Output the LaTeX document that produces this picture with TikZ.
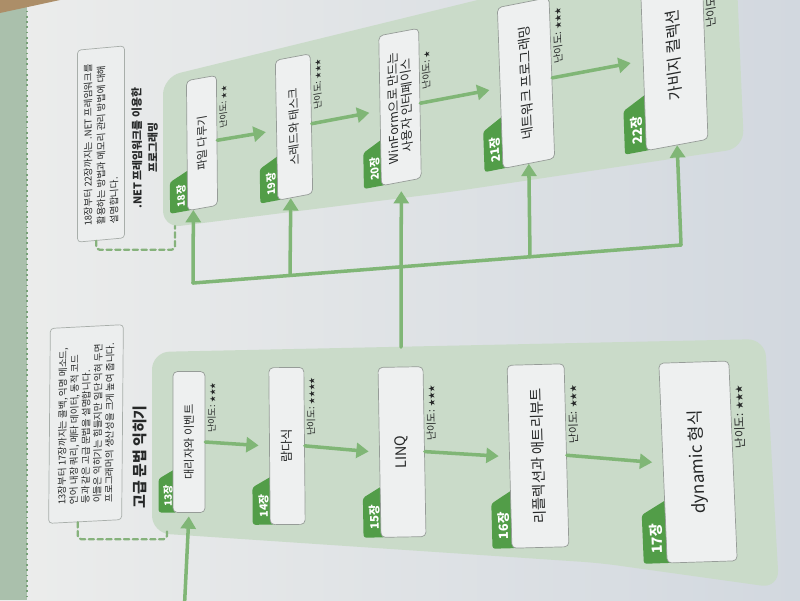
\documentclass[tikz,border=0pt]{standalone}
\usepackage{fontspec}
\setmainfont{Noto Sans CJK KR}
\usetikzlibrary{arrows.meta,positioning,calc,shapes.geometric}
\definecolor{pagel}{RGB}{236,237,236}
\definecolor{pager}{RGB}{210,216,223}
\definecolor{stripgreen}{RGB}{170,192,172}
\definecolor{stripedge}{RGB}{120,160,120}
\definecolor{tablebrown}{RGB}{172,142,104}
\definecolor{grpgreen}{RGB}{202,219,201}
\definecolor{tabgreen}{RGB}{82,157,72}
\definecolor{arrowgreen}{RGB}{128,182,118}
\definecolor{dashgreen}{RGB}{134,178,124}
\definecolor{boxfill}{RGB}{238,240,240}
\definecolor{boxline}{RGB}{150,156,152}
\definecolor{notefill}{RGB}{236,238,238}
\definecolor{noteline}{RGB}{168,174,170}
\definecolor{textcol}{RGB}{38,40,40}
\tikzstyle{conn} = [draw=arrowgreen,line width=2pt,-{Triangle[length=7pt,width=8.5pt]}]
\tikzstyle{busline} = [draw=arrowgreen,line width=2pt]
\tikzstyle{chap} = [draw=boxline,fill=boxfill,line width=0.4pt,rounded corners=2.5pt,text=textcol,align=center,inner sep=1pt]
\tikzstyle{chaptab} = [fill=tabgreen,text=white,trapezium,trapezium left angle=90,trapezium right angle=55,trapezium stretches=true,rounded corners=1.5pt,inner sep=0.5pt]
\tikzstyle{level} = [text=textcol,inner sep=1pt]
\tikzstyle{note} = [draw=noteline,fill=notefill,line width=0.4pt,rounded corners=2pt,align=left,text=textcol,inner sep=2pt]
\tikzstyle{dashline} = [draw=dashgreen,line width=1.3pt,dash pattern=on 3pt off 2pt,rounded corners=2pt]
\tikzset{tilt/.style 2 args={rotate=#1,xslant=#2}}
\newcommand{\fsz}[2]{\fontsize{#1pt}{#2pt}\selectfont}
\newcommand{\hstar}{\scalebox{0.7}{★}}
\pgfdeclarelayer{back}
\pgfdeclarelayer{mid}
\pgfsetlayers{back,mid,main}

\begin{document}
\begin{tikzpicture}[x=0.02cm,y=-0.02cm,line cap=round,line join=round]
    \useasboundingbox (0,0) rectangle (800,600);

    % 종이, 책 가장자리, 두 영역 상자
    \begin{pgfonlayer}{back}
        \begin{scope}
            \clip (0,0) rectangle (800,600);
            \shade[left color=pagel,right color=pager] (0,0) rectangle (800,600);
            \fill[stripgreen] (0,0) rectangle (27,600);
            \draw[stripedge,line width=1pt,dotted] (27,0) -- (27,600);
            \fill[tablebrown] (0,0) -- (60,0) -- (0,13) -- cycle;

            \fill[grpgreen,rounded corners=10pt]
                (163,77) -- (735,-63) -- (744,148) -- (450,192) -- (163,228) -- cycle;
            \fill[grpgreen,rounded corners=10pt]
                (152,352) -- (765,339) -- (779,588) -- (600,563) -- (152,533) -- cycle;
        \end{scope}
    \end{pgfonlayer}

    \clip (0,0) rectangle (800,600);

    % 설명 상자와 제목
    \node[note,tilt={89.5}{-0.06},minimum width=3.9cm,minimum height=1.46cm,font=\fsz{5.4}{6.7}] (n1) at (86,424)
        {13장부터 17장까지는 콜백, 익명 메소드,\\언어 내장 쿼리, 메타 데이터, 동적 코드\\등과 같은 고급 문법을 설명합니다.\\이들은 익히기는 힘들지만 일단 익혀 두면\\프로그래머의 생산성을 크게 높여 줍니다.};
    \node[note,tilt={90}{-0.09},minimum width=3.84cm,minimum height=0.94cm,font=\fsz{5.4}{7.4}] (n2) at (101,144)
        {18장부터 22장까지는 .NET 프레임워크를\\활용하는 방법과 메모리 관리 방법에 대해\\설명합니다.};
    \node[text=textcol,rotate=90,font=\bfseries\fsz{8.5}{10}] (t1) at (140,457) {고급 문법 익히기};
    \node[text=textcol,rotate=90.5,align=center,font=\bfseries\fsz{6.2}{9}] (t2) at (145,148)
        {.NET 프레임워크를 이용한\\프로그래밍};

    % 고급 문법 익히기 (13장 ~ 17장)
    \node[chap,tilt={90}{0},minimum width=2.82cm,minimum height=0.64cm,font=\fsz{6.4}{7}] (b13) at (189,442) {대리자와 이벤트};
    \node[chap,tilt={90.5}{0},minimum width=3.14cm,minimum height=0.7cm,font=\fsz{7}{8}] (b14) at (287,446) {람다식};
    \node[chap,tilt={91}{0},minimum width=3.4cm,minimum height=0.9cm,font=\fsz{8.2}{9}] (b15) at (402,452) {LINQ};
    \node[chap,tilt={91.5}{0},minimum width=3.66cm,minimum height=1.14cm,font=\fsz{8.2}{9}] (b16) at (538,456) {리플렉션과 애트리뷰트};
    \node[chap,tilt={92.4}{0.01},minimum width=4cm,minimum height=1.4cm,font=\fsz{9.7}{11}] (b17) at (698,462) {dynamic 형식};

    % .NET 프레임워크를 이용한 프로그래밍 (18장 ~ 22장)
    \node[chap,tilt={90.5}{-0.17},minimum width=2.6cm,minimum height=0.6cm,font=\fsz{6.4}{7}] (b18) at (202,143) {파일 다루기};
    \node[chap,tilt={91}{-0.17},minimum width=2.8cm,minimum height=0.7cm,font=\fsz{6.6}{7}] (b19) at (294,127) {스레드와 태스크};
    \node[chap,tilt={91}{-0.17},minimum width=3cm,minimum height=0.8cm,font=\fsz{7}{7.6}] (b20) at (400,107)
        {WinForm으로 만드는\\사용자 인터페이스};
    \node[chap,tilt={92}{-0.16},minimum width=3.22cm,minimum height=1.04cm,font=\fsz{7.6}{8}] (b21) at (526,83) {네트워크 프로그래밍};
    \node[chap,tilt={92}{-0.15},minimum width=3.6cm,minimum height=1.24cm,font=\fsz{9}{10}] (b22) at (674,55) {가비지 컬렉션};

    % 장 번호 탭
    \begin{pgfonlayer}{mid}
        \node[chaptab,tilt={90}{0},minimum width=0.9cm,minimum height=0.38cm,font=\bfseries\fsz{5.8}{6},anchor=bottom left corner]
            (c13) at ($(b13.north west)!3pt!(b13.south west)$) {13장};
        \node[chaptab,tilt={90.5}{0},minimum width=1cm,minimum height=0.44cm,font=\bfseries\fsz{6.2}{7},anchor=bottom left corner]
            (c14) at ($(b14.north west)!3pt!(b14.south west)$) {14장};
        \node[chaptab,tilt={91}{0},minimum width=1.06cm,minimum height=0.44cm,font=\bfseries\fsz{6.6}{7},anchor=bottom left corner]
            (c15) at ($(b15.north west)!3pt!(b15.south west)$) {15장};
        \node[chaptab,tilt={91.5}{0},minimum width=1.2cm,minimum height=0.48cm,font=\bfseries\fsz{7.2}{8},anchor=bottom left corner]
            (c16) at ($(b16.north west)!3pt!(b16.south west)$) {16장};
        \node[chaptab,tilt={92.4}{0.01},minimum width=1.3cm,minimum height=0.56cm,font=\bfseries\fsz{8}{9},anchor=bottom left corner]
            (c17) at ($(b17.north west)!3pt!(b17.south west)$) {17장};
        \node[chaptab,tilt={90.5}{-0.17},minimum width=0.84cm,minimum height=0.44cm,font=\bfseries\fsz{5.8}{6},anchor=bottom left corner]
            (c18) at ($(b18.north west)!3pt!(b18.south west)$) {18장};
        \node[chaptab,tilt={91}{-0.17},minimum width=0.92cm,minimum height=0.44cm,font=\bfseries\fsz{6}{7},anchor=bottom left corner]
            (c19) at ($(b19.north west)!3pt!(b19.south west)$) {19장};
        \node[chaptab,tilt={91}{-0.17},minimum width=0.96cm,minimum height=0.44cm,font=\bfseries\fsz{6.2}{7},anchor=bottom left corner]
            (c20) at ($(b20.north west)!3pt!(b20.south west)$) {20장};
        \node[chaptab,tilt={92}{-0.16},minimum width=1.08cm,minimum height=0.46cm,font=\bfseries\fsz{6.8}{7},anchor=bottom left corner]
            (c21) at ($(b21.north west)!3pt!(b21.south west)$) {21장};
        \node[chaptab,tilt={92}{-0.15},minimum width=1.16cm,minimum height=0.52cm,font=\bfseries\fsz{7.4}{8},anchor=bottom left corner]
            (c22) at ($(b22.north west)!3pt!(b22.south west)$) {22장};
    \end{pgfonlayer}

    % 난이도
    \node[level,tilt={90}{0},anchor=north west,font=\fsz{5.2}{6}] (d13) at ($(b13.south west)!0.55!(b13.south east)$) {난이도: \hstar\hstar\hstar};
    \node[level,tilt={90.5}{0},anchor=north west,font=\fsz{5.4}{6}] (d14) at ($(b14.south west)!0.55!(b14.south east)$) {난이도: \hstar\hstar\hstar\hstar};
    \node[level,tilt={91}{0},anchor=north west,font=\fsz{5.8}{6}] (d15) at ($(b15.south west)!0.55!(b15.south east)$) {난이도: \hstar\hstar\hstar};
    \node[level,tilt={91.5}{0},anchor=north west,font=\fsz{6.1}{7}] (d16) at ($(b16.south west)!0.55!(b16.south east)$) {난이도: \hstar\hstar\hstar};
    \node[level,tilt={92.4}{0.01},anchor=north west,font=\fsz{6.6}{7}] (d17) at ($(b17.south west)!0.55!(b17.south east)$) {난이도: \hstar\hstar\hstar};
    \node[level,tilt={90.5}{-0.17},anchor=north west,font=\fsz{5}{6}] (d18) at ($(b18.south west)!0.57!(b18.south east)$) {난이도: \hstar\hstar};
    \node[level,tilt={91}{-0.17},anchor=north west,font=\fsz{5.2}{6}] (d19) at ($(b19.south west)!0.58!(b19.south east)$) {난이도: \hstar\hstar\hstar};
    \node[level,tilt={91}{-0.17},anchor=north west,font=\fsz{5.4}{6}] (d20) at ($(b20.south west)!0.57!(b20.south east)$) {난이도: \hstar};
    \node[level,tilt={92}{-0.16},anchor=north west,font=\fsz{5.8}{6}] (d21) at ($(b21.south west)!0.57!(b21.south east)$) {난이도: \hstar\hstar\hstar};
    \node[level,tilt={92}{-0.15},anchor=north west,font=\fsz{6.4}{7}] (d22) at ($(b22.south west)!0.6!(b22.south east)$) {난이도: \hstar\hstar\hstar};

    % 장 사이의 화살표
    \draw[conn,shorten >=6pt] (b13.south) -- (b14.north);
    \draw[conn,shorten >=6pt] (b14.south) -- (b15.north);
    \draw[conn,shorten >=6pt] (b15.south) -- (b16.north);
    \draw[conn,shorten >=6pt] (b16.south) -- (b17.north);
    \draw[conn,shorten >=6pt] (b18.south) -- (b19.north);
    \draw[conn,shorten >=6pt] (b19.south) -- (b20.north);
    \draw[conn,shorten >=6pt] (b20.south) -- (b21.north);
    \draw[conn,shorten >=7pt] (b21.south) -- (b22.north);

    % 연결선
    \coordinate (entry) at (184,615);
    \coordinate (g1top) at (401,347);
    \coordinate (j18) at (193,283);
    \coordinate (j19) at (290,275.4);
    \coordinate (j21) at (530,256.8);
    \coordinate (j22) at (681,245);

    \draw[conn,shorten >=2pt] (entry) -- (b13.west);
    \draw[busline] (j18) -- (j22);
    \draw[conn,shorten >=5pt] (g1top) -- (b20.west);
    \draw[conn] (j18) -- ($(b18.west)!0.6!(b18.north west)$);
    \draw[conn] (j19) -- ($(b19.west)!0.25!(b19.north west)$);
    \draw[conn] (j21) -- (b21.west);
    \draw[conn] (j22) -- (b22.west);

    % 설명 상자에서 영역으로 가는 점선
    \coordinate (n1foot) at ($(n1.west)!0.2!(n1.north west)$);
    \coordinate (g1foot) at (167,531);
    \coordinate (n2foot) at ($(n2.west)!0.2!(n2.north west)$);
    \coordinate (g2foot) at (175,226);
    \draw[dashline] (n1foot) -- ++(0,17) -| (g1foot);
    \draw[dashline] (n2foot) -- ++(0,9) -| (g2foot);

\end{tikzpicture}
\end{document}
